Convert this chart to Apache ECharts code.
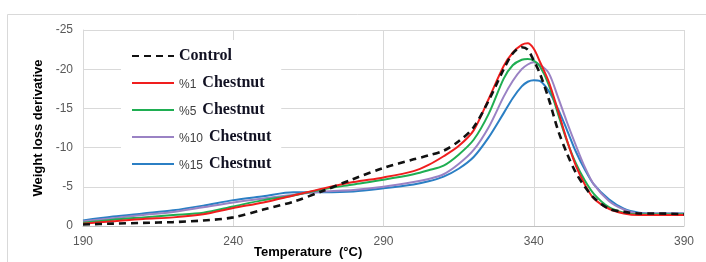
<!DOCTYPE html>
<html>
<head>
<meta charset="utf-8">
<script src="https://cdn.jsdelivr.net/npm/echarts@6/dist/echarts.min.js"></script>
<style>
  html, body { margin: 0; padding: 0; background: #fff; }
  #container { width: 706px; height: 262px; }
</style>
</head>
<body>
<div id="container"></div>
<script>
// temperatures (°C) shared by all curves
var temps = [190, 200, 210, 220, 230, 240, 250, 260, 270, 280, 290, 300, 305, 310, 315, 320, 325,
  330, 333, 336, 338, 340, 342, 345, 348, 351, 354, 357, 360, 365, 370, 375, 380, 390]

var control = [-0.2, -0.3, -0.4, -0.5, -0.7, -1.1, -2.1, -3.1, -4.5, -6.0, -7.4, -8.5, -9.0, -9.6, -10.8, -12.6, -16.0,
  -20.0, -22.0, -22.8, -22.5, -21.1, -19.5, -16.2, -12.3, -9.3, -6.8, -5.0, -3.6, -2.2, -1.8, -1.6, -1.6, -1.5]
var chestnut1 = [-0.3, -0.6, -0.9, -1.1, -1.5, -2.3, -3.0, -3.9, -4.8, -5.6, -6.2, -7.0, -7.8, -8.9, -10.2, -12.2, -16.2,
  -20.4, -22.1, -23.1, -23.3, -22.6, -21.0, -18.4, -14.8, -11.0, -7.7, -5.3, -3.5, -2.2, -1.6, -1.4, -1.4, -1.4]
var chestnut5 = [-0.4, -0.8, -1.1, -1.4, -1.7, -2.5, -3.3, -3.9, -4.7, -5.3, -5.9, -6.6, -7.1, -7.7, -9.1, -11.0, -14.3,
  -18.8, -20.5, -21.2, -21.3, -21.1, -20.4, -18.0, -14.4, -10.9, -8.0, -5.8, -4.1, -2.4, -1.7, -1.5, -1.5, -1.5]
var chestnut10 = [-0.6, -1.0, -1.4, -1.8, -2.4, -3.0, -3.5, -4.0, -4.4, -4.6, -5.0, -5.6, -6.0, -6.6, -7.9, -9.7, -12.6,
  -16.5, -18.5, -20.0, -20.6, -20.9, -20.6, -19.5, -16.5, -13.3, -10.3, -7.5, -5.3, -3.2, -2.1, -1.6, -1.6, -1.6]
var chestnut15 = [-0.7, -1.2, -1.6, -2.0, -2.6, -3.3, -3.8, -4.3, -4.3, -4.4, -4.8, -5.3, -5.7, -6.3, -7.3, -8.8, -11.3,
  -14.4, -16.3, -17.8, -18.4, -18.6, -18.5, -17.2, -15.0, -12.3, -9.5, -7.2, -5.3, -3.4, -2.2, -1.7, -1.6, -1.6]

function pairs(vals) {
  return temps.map(function(t, i) { return [t, vals[i]] })
}

var chartDom = document.getElementById('container')
var myChart = echarts.init(chartDom, null, { renderer: 'canvas' })

function curve(name, vals, color, dashed) {
  return {
    name: name,
    type: 'line',
    smooth: 0.3,
    symbol: 'none',
    data: pairs(vals),
    lineStyle: {
      color: color,
      width: dashed ? 2.6 : 2,
      type: dashed ? [7, 5] : 'solid'
    },
    itemStyle: { color: color }
  }
}

var option = {
  animation: false,
  backgroundColor: '#fff',
  grid: { left: 83, right: 22, top: 30, bottom: 36 },
  legend: {
    orient: 'vertical',
    left: 121,
    top: 40,
    padding: [8, 10],
    backgroundColor: '#fff',
    itemWidth: 42,
    itemHeight: 12,
    itemGap: 11,
    itemStyle: { opacity: 0 },
    data: ['Control', '%1 Chestnut', '%5 Chestnut', '%10 Chestnut', '%15 Chestnut'],
    formatter: function(name) {
      if (name === 'Control') return '{b|Control}'
      var pct = name.split(' ')[0]
      return '{a|' + pct + '}{b|Chestnut}'
    },
    textStyle: {
      rich: {
        a: { fontFamily: 'Liberation Sans', fontSize: 12, color: '#404040', lineHeight: 18, padding: [3, 6, 0, 0] },
        b: { fontFamily: 'Liberation Serif', fontWeight: 'bold', fontSize: 16, color: '#111122', lineHeight: 18 }
      }
    }
  },
  xAxis: {
    type: 'value',
    min: 190,
    max: 390,
    interval: 50,
    axisLine: { show: true, lineStyle: { color: '#bfbfbf' } },
    axisTick: { show: false },
    axisLabel: { color: '#595959', fontSize: 12, fontFamily: 'Liberation Sans', margin: 10 },
    splitLine: { show: true, lineStyle: { color: '#d9d9d9' } }
  },
  yAxis: {
    type: 'value',
    inverse: true,
    min: -25,
    max: 0,
    interval: 5,
    name: 'Weight loss derivative',
    nameLocation: 'middle',
    nameGap: 37,
    nameTextStyle: { fontFamily: 'Liberation Sans', fontWeight: 'bold', fontSize: 13, color: '#000' },
    axisLine: { show: true, lineStyle: { color: '#d9d9d9' } },
    axisTick: { show: false },
    axisLabel: { color: '#595959', fontSize: 12, fontFamily: 'Liberation Sans', margin: 10 },
    splitLine: { show: true, lineStyle: { color: '#d9d9d9' } }
  },
  graphic: [
    {
      type: 'rect',
      silent: true,
      shape: { x: 7.5, y: 14.5, width: 800, height: 300 },
      style: { fill: 'none', stroke: '#d9d9d9', lineWidth: 1 }
    },
    {
      type: 'text',
      left: 254,
      top: 246,
      style: { text: 'Temperature  (°C)', font: 'bold 13px "Liberation Sans"', fill: '#000' }
    }
  ],
  series: [
    curve('%15 Chestnut', chestnut15, '#2b7fc4', false),
    curve('%10 Chestnut', chestnut10, '#9a82c4', false),
    curve('%5 Chestnut', chestnut5, '#1fae52', false),
    curve('%1 Chestnut', chestnut1, '#f01e1e', false),
    curve('Control', control, '#111111', true)
  ]
}

option && myChart.setOption(option)
</script>
</body>
</html>
